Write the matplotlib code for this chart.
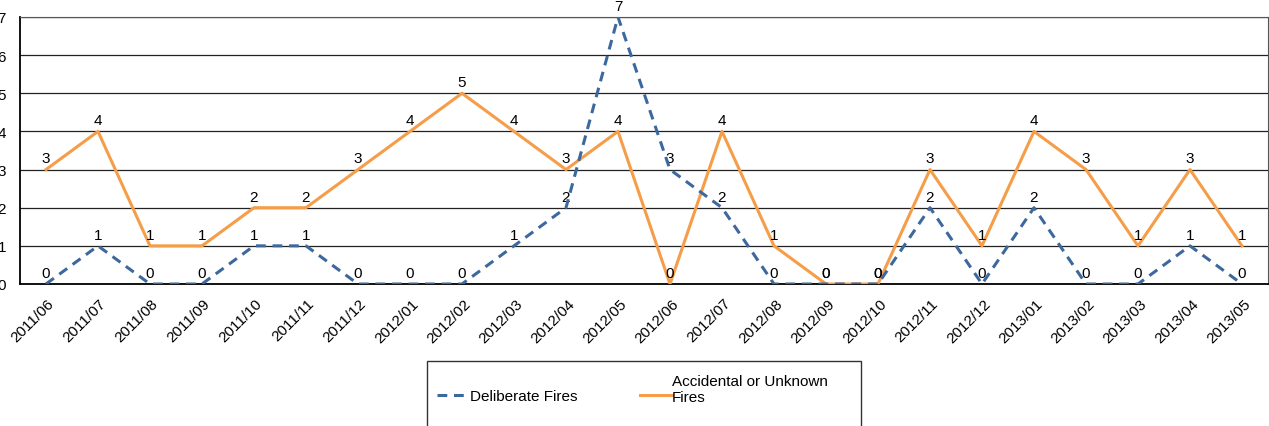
import matplotlib.pyplot as plt
from matplotlib.lines import Line2D
from matplotlib.patches import Rectangle
from matplotlib.transforms import ScaledTranslation

plt.rcParams['font.family'] = ['Liberation Sans', 'DejaVu Sans']

months = ['2011/06', '2011/07', '2011/08', '2011/09', '2011/10', '2011/11', '2011/12',
          '2012/01', '2012/02', '2012/03', '2012/04', '2012/05', '2012/06', '2012/07',
          '2012/08', '2012/09', '2012/10', '2012/11', '2012/12', '2013/01', '2013/02',
          '2013/03', '2013/04', '2013/05']
deliberate = [0, 1, 0, 0, 1, 1, 0, 0, 0, 1, 2, 7, 3, 2, 0, 0, 0, 2, 0, 2, 0, 0, 1, 0]
accidental = [3, 4, 1, 1, 2, 2, 3, 4, 5, 4, 3, 4, 0, 4, 1, 0, 0, 3, 1, 4, 3, 1, 3, 1]

blue = '#3D689E'
orange = '#F59D48'
W, H = 1269, 427
fs = 11

fig = plt.figure(figsize=(W / 100, H / 100), dpi=100)
ax = fig.add_axes([20 / W, (H - 285) / H, 1248 / W, 267 / H])

x = list(range(len(months)))
ax.plot(x, accidental, color=orange, lw=2.2, zorder=3)
ax.plot(x, deliberate, color=blue, lw=2.2, dashes=(3.2, 2.2), zorder=4)

for xi, v in zip(x, accidental):
    ax.annotate(str(v), (xi, v), xytext=(0, 3), textcoords='offset points',
                ha='center', va='bottom', fontsize=fs)
for xi, v in zip(x, deliberate):
    ax.annotate(str(v), (xi, v), xytext=(0, 3), textcoords='offset points',
                ha='center', va='bottom', fontsize=fs)

ax.set_xlim(-0.5, len(months) - 0.5)
ax.set_ylim(0, 7)
ax.set_yticks(range(8))
ax.yaxis.grid(True, color='#222222', lw=0.9)
ax.set_axisbelow(True)
ax.tick_params(axis='y', length=0, labelsize=fs, pad=10)
ax.tick_params(axis='x', length=0, labelsize=fs, pad=12)
ax.set_xticks(x)
ax.set_xticklabels(months, rotation=45, ha='right', va='center', rotation_mode='anchor')
shift = ScaledTranslation(6 / 100, 0, fig.dpi_scale_trans)
for lab in ax.get_xticklabels():
    lab.set_transform(lab.get_transform() + shift)
for side in ['top', 'right']:
    ax.spines[side].set_color('#555555')
for side in ['left', 'bottom']:
    ax.spines[side].set_color('black')
    ax.spines[side].set_linewidth(1.3)

# legend box drawn by hand, in pixel coordinates of the figure
def fx(px):
    return px / W

def fy(py):
    return 1 - py / H

fig.add_artist(Rectangle((fx(427), fy(440)), fx(861) - fx(427), fy(362) - fy(440),
                         transform=fig.transFigure, fill=False, ec='#333333', lw=1.0))
fig.add_artist(Line2D([fx(437), fx(469)], [fy(396), fy(396)], transform=fig.transFigure,
                      color=blue, lw=2.2, dashes=(3.2, 2.2)))
fig.text(fx(470), fy(397), 'Deliberate Fires', fontsize=fs, va='center', ha='left')
fig.add_artist(Line2D([fx(640), fx(672)], [fy(396), fy(396)], transform=fig.transFigure,
                      color=orange, lw=2.2))
fig.text(fx(672), fy(390), 'Accidental or Unknown\nFires', fontsize=fs, va='center',
         ha='left', linespacing=1.15)

fig.savefig('out.png', dpi=100)
